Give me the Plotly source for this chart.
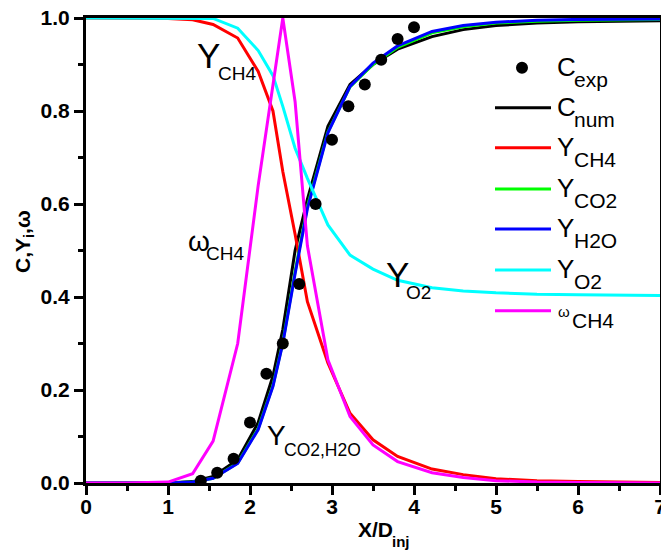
import plotly.graph_objects as go

# Axial position along the jet (X / D_inj)
x_pos = [0, 0.5, 1.0, 1.3, 1.55, 1.85, 2.1, 2.28, 2.4, 2.55, 2.7, 2.95,
         3.22, 3.5, 3.8, 4.22, 4.6, 5.0, 5.5, 6.0, 6.5, 7.0]

# Numerical profiles
c_num = [0, 0, 0, 0.003, 0.014, 0.05, 0.13, 0.23, 0.33, 0.50, 0.61, 0.767,
         0.857, 0.90, 0.933, 0.96, 0.975, 0.984, 0.989, 0.992, 0.993, 0.994]
y_ch4 = [1.0, 1.0, 0.999, 0.996, 0.986, 0.957, 0.885, 0.80, 0.67, 0.535, 0.39, 0.258,
         0.15, 0.093, 0.057, 0.03, 0.018, 0.009, 0.005, 0.003, 0.002, 0.001]
y_co2 = [0, 0, 0, 0.002, 0.01, 0.043, 0.117, 0.21, 0.302, 0.455, 0.595, 0.755,
         0.852, 0.90, 0.937, 0.968, 0.981, 0.989, 0.993, 0.995, 0.996, 0.997]
y_h2o = [0, 0, 0, 0.002, 0.01, 0.042, 0.115, 0.208, 0.30, 0.45, 0.59, 0.753,
         0.853, 0.903, 0.94, 0.971, 0.984, 0.991, 0.995, 0.997, 0.998, 0.998]
y_o2 = [1.0, 1.0, 1.0, 1.0, 0.999, 0.978, 0.93, 0.876, 0.81, 0.72, 0.655, 0.555,
        0.49, 0.46, 0.436, 0.42, 0.413, 0.409, 0.406, 0.405, 0.404, 0.403]
w_ch4 = [0, 0, 0.002, 0.02, 0.09, 0.30, 0.64, 0.855, 1.0, 0.82, 0.51, 0.265,
         0.143, 0.082, 0.046, 0.022, 0.012, 0.005, 0.002, 0.001, 0.0, 0.0]

# Experimental concentration
x_exp = [1.4, 1.6, 1.8, 2.0, 2.2, 2.4, 2.6, 2.8, 3.0, 3.2, 3.4, 3.6, 3.8, 4.0]
c_exp = [0.005, 0.022, 0.052, 0.13, 0.235, 0.30, 0.428, 0.60, 0.738, 0.81,
         0.857, 0.91, 0.955, 0.98]

x_ticks = [0, 1, 2, 3, 4, 5, 6, 7]
y_ticks = [0.0, 0.2, 0.4, 0.6, 0.8, 1.0]
y_tick_text = ["0.0", "0.2", "0.4", "0.6", "0.8", "1.0"]

FONT = "Liberation Sans, Arial, sans-serif"
W, H = 661, 552
L, R, T, B = 86, 1, 18, 69
PW, PH = W - L - R, H - T - B


def px(x):
    return (x - L) / PW


def py(y):
    return (H - B - y) / PH


fig = go.Figure()
lines = [
    (c_num, "#000000", "C_num"),
    (y_ch4, "#ff0000", "Y_CH4"),
    (y_co2, "#00ff00", "Y_CO2"),
    (y_h2o, "#0000ff", "Y_H2O"),
    (y_o2, "#00ffff", "Y_O2"),
    (w_ch4, "#ff00ff", "w_CH4"),
]
for ys, color, name in lines:
    fig.add_trace(go.Scatter(x=x_pos, y=ys, mode="lines", name=name,
                             line=dict(color=color, width=3), showlegend=False))
fig.add_trace(go.Scatter(x=x_exp, y=c_exp, mode="markers", name="C_exp",
                         marker=dict(color="black", size=12), showlegend=False))

annotations = []
shapes = []


def text_at(txt, xl, yc, size, bold=False, angle=0, xanchor="left"):
    annotations.append(dict(
        xref="paper", yref="paper", x=px(xl), y=py(yc),
        xanchor=xanchor, yanchor="middle", showarrow=False, text=txt,
        textangle=angle, borderpad=0,
        font=dict(family=FONT, size=size, color="black",
                  weight="bold" if bold else "normal")))


# Legend block: (row y, main symbol, subscript, colour or None for the dot)
leg_rows = [67.7, 107.7, 147.7, 189, 229, 270, 310.7]
leg_main = ["C", "C", "Y", "Y", "Y", "Y", "ω"]
leg_sub = ["exp", "num", "CH4", "CO2", "H2O", "O2", "CH4"]
leg_colors = [None, "#000000", "#ff0000", "#00ff00", "#0000ff", "#00ffff", "#ff00ff"]
for yrow, main, subtxt, col in zip(leg_rows, leg_main, leg_sub, leg_colors):
    if col is None:
        shapes.append(dict(type="circle", xref="paper", yref="paper",
                           xsizemode="pixel", ysizemode="pixel",
                           xanchor=px(522), yanchor=py(yrow),
                           x0=-6, x1=6, y0=-6, y1=6,
                           fillcolor="black", line=dict(width=0)))
    else:
        shapes.append(dict(type="line", xref="paper", yref="paper",
                           x0=px(495), x1=px(551), y0=py(yrow), y1=py(yrow),
                           line=dict(color=col, width=3)))
    if main == "ω":
        text_at(main, 557, yrow + 1, 15)
        text_at(subtxt, 571, yrow + 10, 21)
    else:
        text_at(main, 556, yrow - 1, 26)
        text_at(subtxt, 573, yrow + 11.5, 21)

# Curve labels
text_at("Y", 196, 55.5, 35)
text_at("CH4", 217, 73.5, 19)
text_at("ω", 187, 241.5, 28)
text_at("CH4", 205, 253.5, 19)
text_at("Y", 385, 274, 35)
text_at("O2", 405, 292, 19)
text_at("Y", 266, 435, 28)
text_at("CO2,H2O", 283, 450, 17.5)

# Axis titles
text_at("X/D", 357, 529.5, 21, bold=True)
text_at("inj", 391, 541, 15, bold=True)
text_at("C,Y<sub>i</sub>,ω", 24, 242, 21, bold=True, angle=-90, xanchor="center")

axis_common = dict(
    showline=True, linecolor="black", linewidth=3, mirror=True,
    ticks="outside", ticklen=9, tickwidth=3, tickcolor="black",
    showgrid=False, zeroline=False, automargin=False,
    tickfont=dict(family=FONT, size=21, color="black", weight="bold"),
)

fig.update_layout(
    width=W, height=H,
    margin=dict(l=L, r=R, t=T, b=B, autoexpand=False),
    paper_bgcolor="white", plot_bgcolor="white",
    shapes=shapes, annotations=annotations,
    xaxis=dict(range=[0, 7], tickvals=x_ticks, ticklabeloverflow="allow",
               ticklabelstandoff=-6,
               minor=dict(dtick=0.5, ticklen=5, tickwidth=3, tickcolor="black", ticks="outside"),
               **axis_common),
    yaxis=dict(range=[0, 1], tickvals=y_ticks, ticktext=y_tick_text,
               minor=dict(dtick=0.1, ticklen=5, tickwidth=3, tickcolor="black", ticks="outside"),
               **axis_common),
)

fig.write_html("out.html")
